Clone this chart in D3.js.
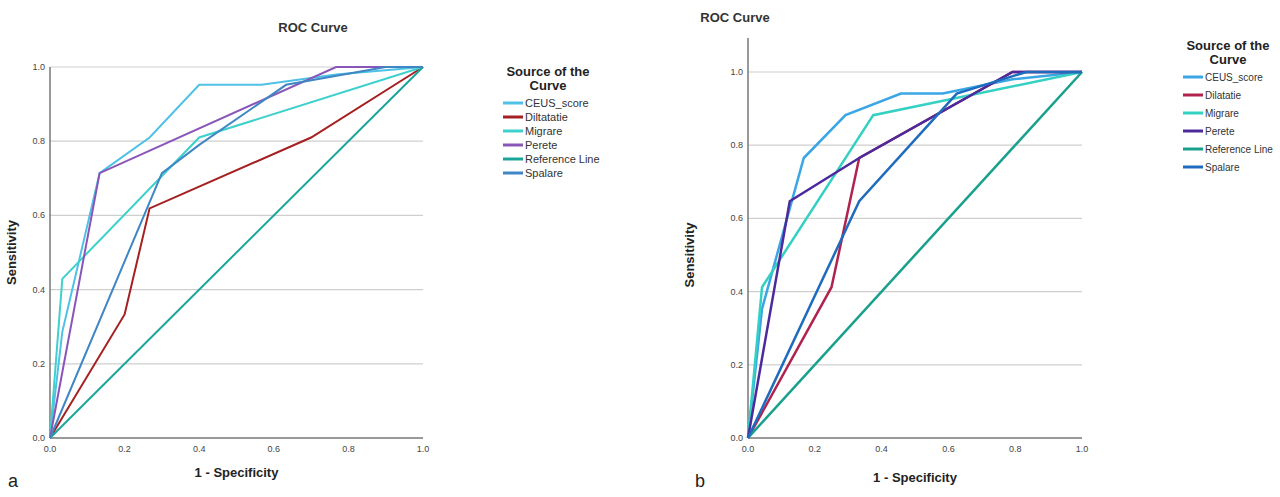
<!DOCTYPE html>
<html><head><meta charset="utf-8">
<script src="https://cdn.jsdelivr.net/npm/d3@7"></script>
<style>body{margin:0;background:#fff}text{font-family:"Liberation Sans",Arial,sans-serif}</style>
</head><body>
<svg id="chart" width="1280" height="497"></svg>
<script>
var yTicks = [0, 0.2, 0.4, 0.6, 0.8, 1.0];
var xTicks = [0, 0.2, 0.4, 0.6, 0.8, 1.0];

// panel a
var seriesA = ["CEUS_score", "Diltatatie", "Migrare", "Perete", "Reference Line", "Spalare"];
var colorsA = ["#4fc0e6", "#a52020", "#3ed0cc", "#8a55b8", "#1aa59a", "#3f86c4"];
var ceusA = [[0,0],[0.033,0.286],[0.133,0.714],[0.267,0.81],[0.4,0.952],[0.567,0.952],[0.767,0.98],[1,1]];
var diltA = [[0,0],[0.2,0.333],[0.267,0.619],[0.7,0.81],[1,1]];
var migrA = [[0,0],[0.033,0.429],[0.4,0.81],[1,1]];
var pereA = [[0,0],[0.133,0.714],[0.767,1],[1,1]];
var refA = [[0,0],[1,1]];
var spalA = [[0,0],[0.3,0.714],[0.4,0.79],[0.633,0.952],[0.9,1],[1,1]];

// panel b
var seriesB = ["CEUS_score", "Dilatatie", "Migrare", "Perete", "Reference Line", "Spalare"];
var colorsB = ["#3aa6e4", "#b0234f", "#35d0c4", "#4c2a9c", "#18a08c", "#1f6cbf"];
var ceusB = [[0,0],[0.042,0.353],[0.167,0.765],[0.292,0.882],[0.458,0.941],[0.583,0.941],[0.792,0.98],[1,1]];
var dilaB = [[0,0],[0.25,0.412],[0.333,0.765],[0.792,1],[1,1]];
var migrB = [[0,0],[0.042,0.412],[0.375,0.882],[1,1]];
var pereB = [[0,0],[0.125,0.647],[0.333,0.765],[0.792,1],[1,1]];
var refB = [[0,0],[1,1]];
var spalB = [[0,0],[0.333,0.647],[0.625,0.941],[0.833,1],[1,1]];

var svg = d3.select("#chart");

function panel(o) {
  var x = d3.scaleLinear().domain([0, 1]).range([o.x0, o.x1]);
  var y = d3.scaleLinear().domain([0, 1]).range([o.y0, o.y1]);
  var g = svg.append("g");
  // grid
  g.selectAll(".grid").data(yTicks.slice(1)).enter().append("line")
    .attr("x1", o.x0).attr("x2", o.x1).attr("y1", y).attr("y2", y)
    .attr("stroke", "#cfcfcf").attr("stroke-width", 1.2);
  g.append("line").attr("x1", o.x0).attr("x2", o.x1).attr("y1", o.y0).attr("y2", o.y0).attr("stroke", "#777").attr("stroke-width", 1.5);
  g.append("line").attr("x1", o.x0).attr("x2", o.x0).attr("y1", o.y0).attr("y2", o.yTop).attr("stroke", "#777").attr("stroke-width", 1.5);
  g.selectAll(".yt").data(yTicks).enter().append("text")
    .attr("x", o.x0 - 5).attr("y", function(d){return y(d) + 3;})
    .attr("text-anchor", "end").attr("font-size", 9).attr("fill", "#444")
    .text(function(d){return d.toFixed(1);});
  g.selectAll(".xt").data(xTicks).enter().append("text")
    .attr("x", x).attr("y", o.y0 + 14)
    .attr("text-anchor", "middle").attr("font-size", 9).attr("fill", "#444")
    .text(function(d){return d.toFixed(1);});
  var line = d3.line().x(function(d){return x(d[0]);}).y(function(d){return y(d[1]);});
  o.data.forEach(function(pts, i) {
    g.append("path").attr("d", line(pts)).attr("fill", "none")
      .attr("stroke", o.colors[i]).attr("stroke-width", o.sw);
  });
  g.append("text").attr("x", o.titleX).attr("y", o.titleY).attr("text-anchor", "middle")
    .attr("font-size", 13).attr("font-weight", "bold").attr("fill", "#333").text("ROC Curve");
  g.append("text").attr("x", (o.x0 + o.x1) / 2).attr("y", o.xtY).attr("text-anchor", "middle")
    .attr("font-size", 13).attr("font-weight", "bold").attr("fill", "#222").text("1 - Specificity");
  g.append("text").attr("transform", "translate(" + o.ytX + "," + ((o.y0 + o.y1) / 2) + ") rotate(-90)")
    .attr("text-anchor", "middle").attr("font-size", 13).attr("font-weight", "bold").attr("fill", "#222").text("Sensitivity");
  g.append("text").attr("x", o.lblX).attr("y", 487).attr("font-size", 18).attr("fill", "#222").text(o.lbl);
  // legend
  var lg = g.append("g");
  lg.append("text").attr("x", o.legX + 50).attr("y", o.legY).attr("text-anchor", "middle")
    .attr("font-size", o.legT).attr("font-weight", "bold").attr("fill", "#222").text("Source of the");
  lg.append("text").attr("x", o.legX + 50).attr("y", o.legY + o.legT + 1).attr("text-anchor", "middle")
    .attr("font-size", o.legT).attr("font-weight", "bold").attr("fill", "#222").text("Curve");
  o.names.forEach(function(n, i) {
    var yy = o.legY + o.legT + 14 + i * o.legS;
    lg.append("line").attr("x1", o.legX + 5).attr("x2", o.legX + 25).attr("y1", yy).attr("y2", yy)
      .attr("stroke", o.colors[i]).attr("stroke-width", 3);
    lg.append("text").attr("x", o.legX + 27).attr("y", yy + 4).attr("font-size", o.legF).attr("fill", "#333").text(n);
  });
}

panel({x0: 50, x1: 423, y0: 438, y1: 67, yTop: 67, data: [ceusA, diltA, migrA, pereA, refA, spalA],
  colors: colorsA, names: seriesA, sw: 2, titleX: 313, titleY: 32, xtY: 477, ytX: 16, lbl: "a", lblX: 8,
  legX: 498, legY: 76, legT: 13, legS: 14, legF: 11});
panel({x0: 748, x1: 1082, y0: 438, y1: 72, yTop: 38, data: [ceusB, dilaB, migrB, pereB, refB, spalB],
  colors: colorsB, names: seriesB, sw: 2.5, titleX: 735, titleY: 22, xtY: 482, ytX: 694, lbl: "b", lblX: 695,
  legX: 1178, legY: 50, legT: 13, legS: 18, legF: 10});
</script>
</body></html>
